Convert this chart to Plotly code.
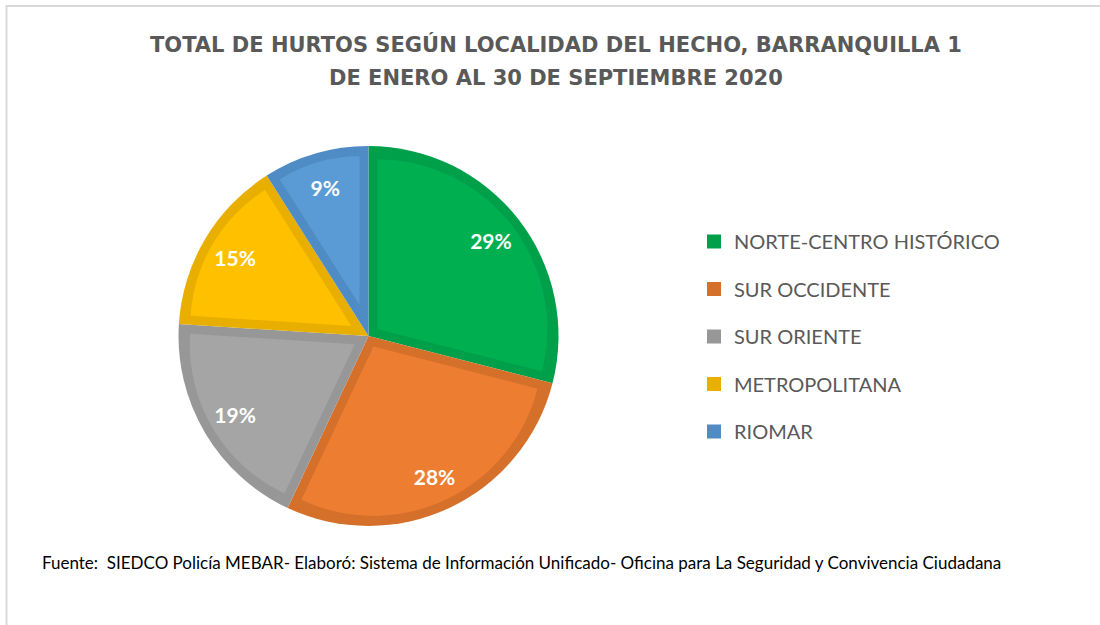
import math
import plotly.graph_objects as go

# ---------------- data ----------------
labels = ["NORTE-CENTRO HISTÓRICO", "SUR OCCIDENTE", "SUR ORIENTE", "METROPOLITANA", "RIOMAR"]
values = [29, 28, 19, 15, 9]
fill_colors = ["#00B050", "#ED7D31", "#A5A5A5", "#FFC000", "#5B9BD5"]
edge_colors = ["#00A04A", "#D5702B", "#979797", "#E8AE00", "#4F8BC4"]
title_lines = ["TOTAL DE HURTOS SEGÚN LOCALIDAD DEL HECHO, BARRANQUILLA 1",
               "DE ENERO AL 30 DE SEPTIEMBRE 2020"]
source_text = ("Fuente:  SIEDCO Policía MEBAR- Elaboró: Sistema de Información Unificado- "
               "Oficina para La Seguridad y Convivencia Ciudadana")

# ---------------- layout geometry ----------------
W, H = 1100, 625
CX, CY = 368.5, 336.0   # pie centre (px)
R = 190.0               # outer radius (px)
B = 9.0                 # inset border width (px)
RL = R - B
D_LABEL = 155.0         # distance of the percentage labels from the centre (px)


def dom(cx, cy, r):
    return dict(x=[(cx - r) / W, (cx + r) / W], y=[1 - (cy + r) / H, 1 - (cy - r) / H])


total = float(sum(values))
n = len(values)
fig = go.Figure()

common = dict(labels=labels, values=values, sort=False, direction="clockwise", rotation=0,
              hoverinfo="skip", showlegend=False)

# base pie (darker edge colour)
fig.add_trace(go.Pie(marker=dict(colors=edge_colors, line=dict(width=0)),
                     textinfo="none", domain=dom(CX, CY, R), **common))

# inset lighter fill for each slice
for i in range(n):
    half = math.pi * values[i] / total
    c = B / math.sin(half)
    cols = ["rgba(0,0,0,0)"] * n
    cols[i] = fill_colors[i]
    pulls = [0] * n
    pulls[i] = c / (RL - c)
    fig.add_trace(go.Pie(marker=dict(colors=cols, line=dict(width=0)), pull=pulls,
                         textinfo="none", domain=dom(CX, CY, RL), **common))

# percentage labels (transparent pies sized so the label sits at D_LABEL)
for i in range(n):
    half = math.pi * values[i] / total
    rr = D_LABEL * (1 + math.sin(half))
    tmpl = [""] * n
    tmpl[i] = "%{percent:.0%}"
    fig.add_trace(go.Pie(
        marker=dict(colors=["rgba(0,0,0,0)"] * n, line=dict(width=0)),
        texttemplate=tmpl, textposition="inside", insidetextorientation="horizontal",
        textfont=dict(family="Lato", size=21, color="white", weight="bold"),
        domain=dom(CX, CY, rr), **common))

# legend entries
for i, lab in enumerate(labels):
    fig.add_trace(go.Scatter(
        x=[None], y=[None], mode="markers", name=lab, legendgroup=lab,
        marker=dict(symbol="square", size=14, color=edge_colors[i]),
        showlegend=True, hoverinfo="skip",
    ))

fig.update_layout(
    width=W, height=H, margin=dict(l=0, r=0, t=0, b=0),
    paper_bgcolor="white", plot_bgcolor="white",
    xaxis=dict(visible=False), yaxis=dict(visible=False),
    showlegend=True,
    legend=dict(
        x=694 / W, y=1 - 222 / H, xanchor="left", yanchor="top",
        font=dict(family="Lato", size=20, color="#595959"),
        tracegroupgap=18.5, itemsizing="trace", bgcolor="rgba(0,0,0,0)",
    ),
    annotations=[
        dict(text=title_lines[0], x=556 / W, y=1 - 45 / H, xref="paper", yref="paper",
             xanchor="center", yanchor="middle", showarrow=False,
             font=dict(family="DejaVu Sans", size=21, color="#595959", weight="bold")),
        dict(text=title_lines[1], x=556 / W, y=1 - 78 / H, xref="paper", yref="paper",
             xanchor="center", yanchor="middle", showarrow=False,
             font=dict(family="DejaVu Sans", size=21, color="#595959", weight="bold")),
        dict(text=source_text, x=40 / W, y=1 - 562 / H, xref="paper", yref="paper",
             xanchor="left", yanchor="middle", showarrow=False,
             font=dict(family="Lato", size=17, color="#000000")),
    ],
    shapes=[
        dict(type="line", xref="paper", yref="paper", x0=6 / W, x1=1.0, y0=1 - 6 / H, y1=1 - 6 / H,
             line=dict(color="#D9D9D9", width=2)),
        dict(type="line", xref="paper", yref="paper", x0=6.5 / W, x1=6.5 / W, y0=0, y1=1 - 5 / H,
             line=dict(color="#D9D9D9", width=2)),
    ],
)

fig.write_html("out.html", config={"displayModeBar": False},
               post_script="document.body.style.margin='0';")
